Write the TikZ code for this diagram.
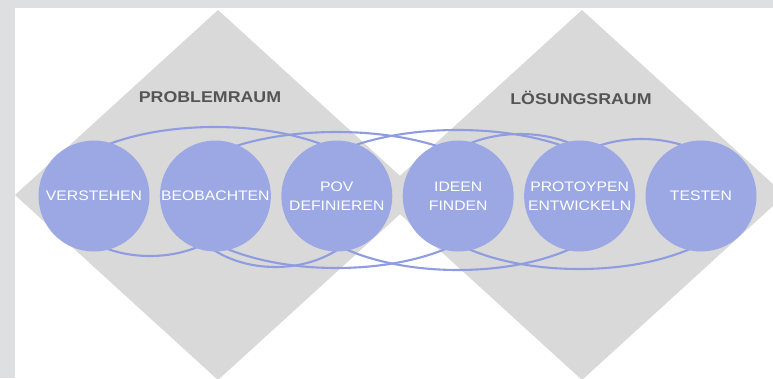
\documentclass[tikz,border=0pt]{standalone}
\usepackage{fontspec}
\usepackage{tikz}
\usetikzlibrary{positioning,calc}
\usetikzlibrary{backgrounds}
\newfontfamily\phasefont[FakeStretch=1.14]{Liberation Sans}
\definecolor{framegray}{RGB}{222, 223, 225}
\definecolor{spacegray}{RGB}{217, 217, 217}
\definecolor{phaseblue}{RGB}{155, 168, 228}
\definecolor{loopblue}{RGB}{143, 156, 224}
\definecolor{titlegray}{RGB}{85, 85, 85}

\begin{document}
\begin{tikzpicture}[x=1pt, y=-1pt,
space_fill/.style={fill=spacegray},
space_title/.style={text=titlegray, font=\phasefont\bfseries\fontsize{15.6}{19}\selectfont},
phase_node/.style={circle, fill=phaseblue, minimum size=111pt, inner sep=0pt, text=white, align=center, font=\phasefont\fontsize{13.8}{19}\selectfont},
loop_line/.style={draw=loopblue, line width=2.1pt}
]
\useasboundingbox (0,0) rectangle (773,378);
\clip (0,0) rectangle (773,378);

%Nodes
%Nodes titles
\node[space_title] (problem_title) at (210,97) {PROBLEMRAUM};
\node[space_title] (solution_title) at (581,98) {LÖSUNGSRAUM};

%Nodes phases
\node[phase_node] (phase_1) at (94,196) {VERSTEHEN};
\node[phase_node] (phase_2) [right=10pt of phase_1] {BEOBACHTEN};
\node[phase_node] (phase_3) [right=10pt of phase_2] {POV\\DEFINIEREN};
\node[phase_node] (phase_4) [right=10pt of phase_3] {IDEEN\\FINDEN};
\node[phase_node] (phase_5) [right=10pt of phase_4] {PROTOYPEN\\ENTWICKELN};
\node[phase_node] (phase_6) [right=10pt of phase_5] {TESTEN};

\begin{scope}[on background layer]
%Frame
\fill[framegray] (0,0) rectangle (773,378);
\fill[white] (15,8) rectangle (773,378);

%Spaces
\fill[space_fill] (218,10) -- (421,195) -- (218,380) -- (15,195) -- cycle;
\fill[space_fill] (582,10) -- (785,195) -- (582,380) -- (379,195) -- cycle;

%Loops
%Loops over the phases
\draw[loop_line] ($(phase_1)+(-34,0)$) arc[start angle=180, end angle=0, x radius=90, y radius=60];
\draw[loop_line] ($(phase_2)+(-35,0)$) arc[start angle=180, end angle=0, x radius=95, y radius=71];
\draw[loop_line] ($(phase_2)+(-40,0)$) arc[start angle=180, end angle=0, x radius=161, y radius=72];
\draw[loop_line] ($(phase_3)+(-40,0)$) arc[start angle=180, end angle=0, x radius=161, y radius=74];
\draw[loop_line] ($(phase_4)+(-40,0)$) arc[start angle=180, end angle=0, x radius=161, y radius=73];

%Loops under the phases
\draw[loop_line] ($(phase_1)+(-40,0)$) arc[start angle=180, end angle=360, x radius=161, y radius=69];
\draw[loop_line] ($(phase_2)+(-40,0)$) arc[start angle=180, end angle=360, x radius=161, y radius=64];
\draw[loop_line] ($(phase_3)+(-40,0)$) arc[start angle=180, end angle=360, x radius=161, y radius=66];
\draw[loop_line] ($(phase_4)+(-33,0)$) arc[start angle=180, end angle=360, x radius=95, y radius=62];
\draw[loop_line] ($(phase_5)+(-28,0)$) arc[start angle=180, end angle=360, x radius=90, y radius=57];
\end{scope}

\end{tikzpicture}
\end{document}
